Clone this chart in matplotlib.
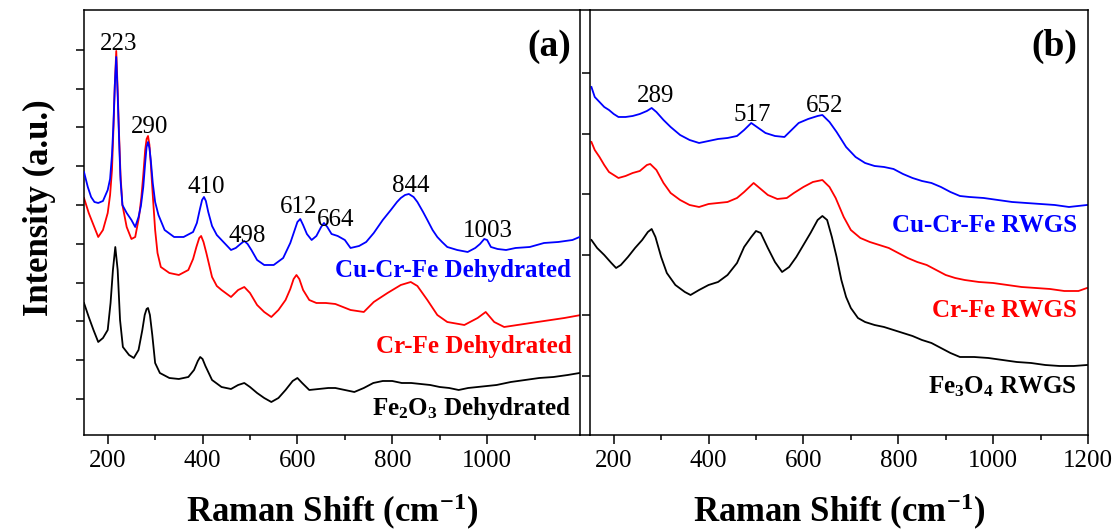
import matplotlib
matplotlib.use("Agg")
import matplotlib.pyplot as plt
from matplotlib.lines import Line2D
from matplotlib.ticker import MultipleLocator

plt.rcParams['font.family'] = ['Liberation Serif', 'DejaVu Serif']
plt.rcParams['mathtext.fontset'] = 'custom'
plt.rcParams['mathtext.rm'] = 'Liberation Serif'
plt.rcParams['mathtext.bf'] = 'Liberation Serif:bold'
plt.rcParams['mathtext.default'] = 'bf'

# ---- (a) dehydrated catalysts ----
cucrfe_dehy_x = [150, 158, 165, 172, 180, 190, 200, 205, 209, 212, 215, 218, 221, 224, 227,
                 231, 240, 250, 258, 265, 270, 275, 279, 282, 285, 288, 291, 295, 300, 307,
                 320, 340, 360, 380, 388, 394, 399, 403, 407, 412, 420, 430, 440, 460, 470,
                 480, 488, 495, 503, 515, 530, 550, 570, 585, 595, 600, 606, 612, 620, 630,
                 640, 650, 656, 663, 672, 685, 700, 712, 730, 745, 761, 780, 797, 810, 818,
                 827, 835, 845, 853, 865, 874, 885, 895, 905, 916, 937, 959, 975, 985, 994,
                 1000, 1008, 1022, 1040, 1060, 1090, 1120, 1150, 1180, 1195]
cucrfe_dehy_y = [2630, 2480, 2380, 2330, 2320, 2340, 2450, 2560, 2800, 3100, 3500, 3780, 3400, 2950, 2550,
                 2300, 2220, 2150, 2080, 2180, 2290, 2480, 2720, 2880, 2930, 2870, 2740, 2520, 2330, 2200,
                 2050, 1980, 1980, 2030, 2120, 2250, 2350, 2380, 2340, 2230, 2090, 2000, 1950, 1850, 1870,
                 1910, 1940, 1910, 1850, 1750, 1700, 1700, 1770, 1920, 2060, 2130, 2160, 2100, 2010, 1950,
                 1990, 2080, 2120, 2080, 2010, 1990, 1950, 1870, 1890, 1930, 2020, 2150, 2250, 2330, 2370,
                 2400, 2410, 2380, 2330, 2230, 2150, 2050, 1980, 1930, 1880, 1850, 1830, 1870, 1910, 1960,
                 1950, 1880, 1860, 1850, 1870, 1880, 1920, 1930, 1950, 1980]

crfe_dehy_x = [150, 160, 170, 180, 190, 200, 205, 209, 212, 215, 218, 221, 224, 227, 231,
               240, 250, 258, 266, 271, 275, 279, 282, 285, 288, 291, 295, 300, 305, 312,
               330, 350, 370, 380, 387, 393, 397, 402, 408, 420, 430, 440, 460, 475, 488,
               500, 515, 530, 545, 560, 575, 585, 592, 598, 604, 612, 625, 640, 660, 680,
               712, 740, 761, 790, 818, 839, 853, 874, 895, 916, 952, 980, 997, 1015, 1036,
               1092, 1163, 1198]
crfe_dehy_y = [2370, 2220, 2100, 1980, 2050, 2220, 2400, 2650, 3050, 3500, 3840, 3450, 3000, 2600, 2300,
               2080, 1960, 1980, 2180, 2380, 2600, 2850, 2960, 2990, 2900, 2700, 2400, 2050, 1820, 1680,
               1620, 1600, 1650, 1760, 1880, 1970, 1990, 1930, 1820, 1580, 1490, 1450, 1380, 1450, 1480,
               1420, 1300, 1230, 1180, 1250, 1350, 1460, 1560, 1600, 1560, 1450, 1350, 1320, 1320, 1310,
               1250, 1230, 1330, 1420, 1500, 1530, 1490, 1350, 1200, 1130, 1100, 1170, 1230, 1130, 1080,
               1120, 1170, 1200]

fe2o3_dehy_x = [150, 160, 170, 180, 190, 200, 206, 211, 216, 221, 226, 232, 245, 255, 265,
                273, 278, 282, 285, 289, 294, 300, 310, 330, 350, 370, 382, 390, 395, 400,
                406, 420, 440, 460, 475, 488, 500, 515, 530, 545, 560, 575, 590, 600, 610,
                625, 645, 665, 680, 700, 720, 740, 760, 780, 800, 820, 840, 860, 880, 900,
                920, 940, 960, 980, 1000, 1020, 1050, 1080, 1110, 1140, 1170, 1195]
fe2o3_dehy_y = [1320, 1180, 1050, 930, 970, 1050, 1320, 1650, 1880, 1650, 1150, 880, 800, 770, 850,
                1050, 1200, 1260, 1270, 1200, 1000, 720, 620, 570, 560, 580, 650, 740, 780, 760,
                690, 550, 480, 460, 500, 520, 480, 420, 370, 330, 370, 450, 540, 570, 520,
                450, 460, 470, 470, 450, 430, 470, 520, 540, 540, 520, 520, 510, 500, 480,
                470, 450, 470, 480, 490, 500, 530, 550, 570, 580, 600, 620]

# ---- (b) after RWGS ----
cucrfe_rwgs_x = [153, 160, 170, 180, 190, 200, 210, 225, 240, 255, 270, 280, 290, 305, 320,
                 340, 360, 380, 400, 420, 440, 460, 475, 490, 505, 520, 540, 560, 575, 590,
                 610, 630, 640, 655, 670, 690, 710, 730, 750, 770, 790, 810, 830, 850, 870,
                 890, 910, 930, 950, 980, 1010, 1040, 1070, 1100, 1130, 1160, 1198]
cucrfe_rwgs_y = [3480, 3380, 3330, 3280, 3250, 3210, 3180, 3180, 3190, 3210, 3240, 3270, 3230, 3150, 3080,
                 3000, 2950, 2920, 2940, 2960, 2970, 2990, 3050, 3120, 3070, 3020, 2990, 2980, 3050, 3120,
                 3160, 3190, 3200, 3130, 3030, 2880, 2780, 2720, 2690, 2680, 2660, 2610, 2570, 2540, 2520,
                 2480, 2430, 2390, 2380, 2370, 2350, 2330, 2320, 2310, 2300, 2280, 2300]

crfe_rwgs_x = [153, 160, 170, 180, 190, 200, 210, 225, 240, 255, 270, 277, 290, 305, 320,
               340, 360, 380, 400, 420, 440, 460, 475, 495, 510, 525, 545, 565, 580, 600,
               620, 640, 655, 668, 685, 700, 720, 740, 760, 780, 800, 820, 840, 860, 880,
               900, 920, 940, 970, 1000, 1030, 1060, 1090, 1120, 1150, 1180, 1198]
crfe_rwgs_y = [2930, 2850, 2780, 2700, 2630, 2600, 2570, 2590, 2620, 2640, 2700, 2710, 2650, 2520, 2420,
               2350, 2300, 2280, 2310, 2320, 2330, 2370, 2430, 2520, 2460, 2400, 2360, 2370, 2420, 2480,
               2530, 2550, 2480, 2370, 2180, 2050, 1970, 1930, 1900, 1870, 1820, 1770, 1730, 1700, 1650,
               1600, 1570, 1550, 1530, 1520, 1500, 1480, 1470, 1460, 1440, 1440, 1470]

fe3o4_rwgs_x = [153, 165, 180, 195, 205, 215, 230, 245, 260, 272, 280, 288, 300, 312, 330,
                350, 362, 380, 400, 420, 440, 460, 475, 490, 500, 510, 525, 540, 555, 570,
                585, 600, 615, 630, 640, 650, 660, 670, 680, 690, 700, 715, 730, 750, 770,
                790, 810, 830, 850, 870, 890, 910, 930, 960, 990, 1020, 1050, 1080, 1110, 1140,
                1170, 1198]
fe3o4_rwgs_y = [1950, 1870, 1800, 1720, 1670, 1700, 1780, 1870, 1950, 2030, 2060, 1980, 1780, 1620, 1500,
                1430, 1400, 1450, 1500, 1530, 1600, 1720, 1880, 1980, 2040, 2020, 1870, 1730, 1630, 1680,
                1780, 1900, 2020, 2150, 2190, 2150, 1980, 1780, 1550, 1380, 1270, 1170, 1130, 1100, 1080,
                1050, 1020, 990, 950, 920, 870, 820, 780, 780, 770, 750, 730, 720, 700, 690,
                690, 700]

# peak labels: text, x position, baseline height
peaks_a = ['223', '290', '410', '498', '612', '664', '844', '1003']
peaks_a_x = [223, 288, 408, 495, 602, 680, 840, 1001]
peaks_a_y = [3850, 3020, 2420, 1930, 2220, 2090, 2430, 1980]

peaks_b = ['289', '517', '652']
peaks_b_x = [288, 492, 644]
peaks_b_y = [3330, 3140, 3230]

fig = plt.figure(figsize=(11.17, 5.31), dpi=100)
ax_a = fig.add_axes([0.0752, 0.1808, 0.4441, 0.8004])
ax_b = fig.add_axes([0.5282, 0.1808, 0.4458, 0.8004])

lw = 1.3
ax_a.plot(cucrfe_dehy_x, cucrfe_dehy_y, color='blue', lw=lw, zorder=3)
ax_a.plot(crfe_dehy_x, crfe_dehy_y, color='red', lw=lw, zorder=2)
ax_a.plot(fe2o3_dehy_x, fe2o3_dehy_y, color='black', lw=lw, zorder=2)

ax_b.plot(cucrfe_rwgs_x, cucrfe_rwgs_y, color='blue', lw=lw)
ax_b.plot(crfe_rwgs_x, crfe_rwgs_y, color='red', lw=lw)
ax_b.plot(fe3o4_rwgs_x, fe3o4_rwgs_y, color='black', lw=lw)

for t, x, y in zip(peaks_a, peaks_a_x, peaks_a_y):
    ax_a.text(x, y, t, ha='center', va='baseline', fontsize=18)
for t, x, y in zip(peaks_b, peaks_b_x, peaks_b_y):
    ax_b.text(x, y, t, ha='center', va='baseline', fontsize=18)

# sample names
ax_a.text(0.982, 0.372, 'Cu-Cr-Fe Dehydrated', color='blue', ha='right', va='baseline',
          fontsize=18, fontweight='bold', transform=ax_a.transAxes)
ax_a.text(0.982, 0.193, 'Cr-Fe Dehydrated', color='red', ha='right', va='baseline',
          fontsize=18, fontweight='bold', transform=ax_a.transAxes)
ax_a.text(0.982, 0.047, 'Fe$_2$O$_3$ Dehydrated', color='black', ha='right', va='baseline',
          fontsize=18, fontweight='bold', transform=ax_a.transAxes)
ax_b.text(0.978, 0.478, 'Cu-Cr-Fe RWGS', color='blue', ha='right', va='baseline',
          fontsize=18, fontweight='bold', transform=ax_b.transAxes)
ax_b.text(0.978, 0.278, 'Cr-Fe RWGS', color='red', ha='right', va='baseline',
          fontsize=18, fontweight='bold', transform=ax_b.transAxes)
ax_b.text(0.978, 0.099, 'Fe$_3$O$_4$ RWGS', color='black', ha='right', va='baseline',
          fontsize=18, fontweight='bold', transform=ax_b.transAxes)

ax_a.text(0.982, 0.891, '(a)', ha='right', va='baseline', fontsize=27, fontweight='bold',
          transform=ax_a.transAxes)
ax_b.text(0.978, 0.891, '(b)', ha='right', va='baseline', fontsize=27, fontweight='bold',
          transform=ax_b.transAxes)

ax_a.set_xlim(150, 1196)
ax_b.set_xlim(150, 1200)
ax_a.set_yticks([360 + 388 * k for k in range(10)])
ax_b.set_yticks([590 + 606 * k for k in range(6)])

for ax in (ax_a, ax_b):
    ax.set_ylim(0, 4250)
    ax.xaxis.set_major_locator(MultipleLocator(200))
    ax.xaxis.set_minor_locator(MultipleLocator(100))
    ax.tick_params(axis='x', which='major', direction='out', length=6.5, width=1.1,
                   pad=4, labelsize=18, top=False)
    ax.tick_params(axis='x', which='minor', direction='out', length=3.6, width=1.1, top=False)
    ax.tick_params(axis='y', which='both', direction='out', length=6, width=1.1,
                   labelleft=False, right=False)
    for s in ax.spines.values():
        s.set_linewidth(1.1)
    ax.set_xlabel('Raman Shift (cm$^{-1}$)', fontsize=25, fontweight='bold', labelpad=15)

# frame runs across the gap between the two panels
pa = ax_a.get_position()
pb = ax_b.get_position()
for yy in (pa.y0, pa.y1):
    fig.add_artist(Line2D([pa.x1, pb.x0], [yy, yy], transform=fig.transFigure,
                          color='black', lw=1.1))

fig.text(0.035, 0.608, 'Intensity (a.u.)', rotation=90, ha='center', va='center',
         fontsize=25, fontweight='bold')

fig.savefig('out.png', dpi=100)
